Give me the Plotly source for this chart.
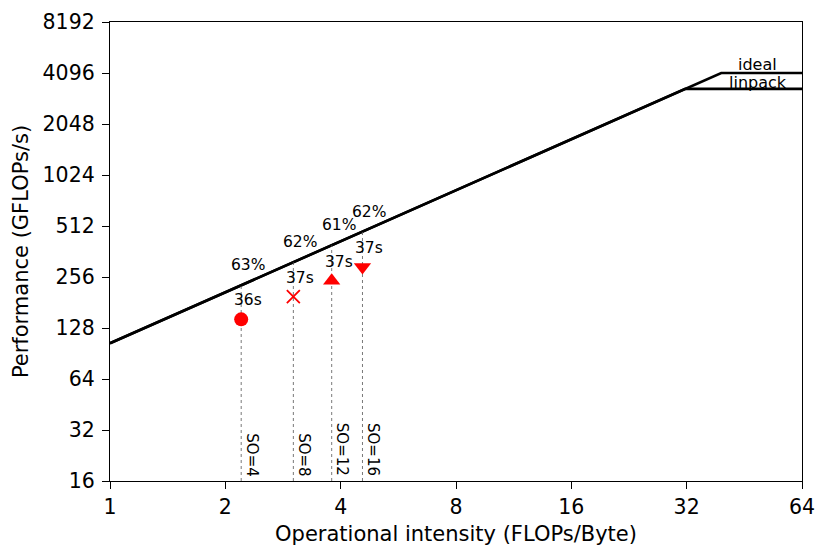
import numpy as np
import plotly.graph_objects as go

# roofline parameters
BANDWIDTH = 104.0
ROOF_NAMES = ["ideal", "linpack"]
ROOF_PEAKS = [4096.0, 3300.0]

# measured runs
SO_LABELS = ["SO=4", "SO=8", "SO=12", "SO=16"]
INTENSITY = [2.20, 3.01, 3.79, 4.56]
PERFORMANCE = [144, 196, 243, 293]
TIMES = ["36s", "37s", "37s", "37s"]
EFFICIENCY = ["63%", "62%", "61%", "62%"]
SYMBOLS = ["circle", "x-thin-open", "triangle-up", "triangle-down"]

X_TICKS = [1, 2, 4, 8, 16, 32, 64]
Y_TICKS = [16, 32, 64, 128, 256, 512, 1024, 2048, 4096, 8192]

LABEL_X = 49
FONT = "DejaVu Sans"

fig = go.Figure()

for name, peak in zip(ROOF_NAMES, ROOF_PEAKS):
    knee = peak / BANDWIDTH
    xs = [X_TICKS[0], knee, X_TICKS[-1]]
    ys = [min(BANDWIDTH * x, peak) for x in xs]
    fig.add_trace(go.Scatter(x=xs, y=ys, mode="lines",
                             line=dict(color="black", width=2.6),
                             showlegend=False, hoverinfo="skip"))

# dotted drop lines from the bottom up to the roof
dx, dy = [], []
for i in INTENSITY:
    dx += [i, i, None]
    dy += [Y_TICKS[0], BANDWIDTH * i, None]
fig.add_trace(go.Scatter(x=dx, y=dy, mode="lines",
                         line=dict(color="#555555", width=0.8, dash="dot"),
                         showlegend=False, hoverinfo="skip"))

for i, p, sym in zip(INTENSITY, PERFORMANCE, SYMBOLS):
    if sym.startswith("x"):
        marker = dict(symbol=sym, size=13, color="red", line=dict(color="red", width=1.8))
    else:
        marker = dict(symbol=sym, size=15 if sym != "circle" else 14, color="red",
                      line=dict(width=0))
    fig.add_trace(go.Scatter(x=[i], y=[p], mode="markers", marker=marker,
                             showlegend=False, hoverinfo="skip"))

annotations = []
for i, p, t, e, so in zip(INTENSITY, PERFORMANCE, TIMES, EFFICIENCY, SO_LABELS):
    annotations.append(dict(x=np.log10(i), y=np.log10(BANDWIDTH * i), text=e,
                            showarrow=False, xshift=7, yshift=20,
                            font=dict(size=15.5, color="black", family=FONT)))
    annotations.append(dict(x=np.log10(i), y=np.log10(p), text=t,
                            showarrow=False, xshift=7, yshift=19,
                            font=dict(size=15.5, color="black", family=FONT)))
    annotations.append(dict(x=np.log10(i), y=np.log10(Y_TICKS[0]), text=so,
                            showarrow=False, textangle=90, xanchor="left",
                            yanchor="bottom", xshift=0, yshift=3,
                            font=dict(size=15, color="black", family=FONT)))

for name, peak, shift in zip(ROOF_NAMES, ROOF_PEAKS, [-3, -5]):
    annotations.append(dict(x=np.log10(LABEL_X), y=np.log10(peak), text=name,
                            showarrow=False, yanchor="bottom", yshift=shift,
                            font=dict(size=16, color="black", family=FONT)))

axis_common = dict(type="log", showline=True, linecolor="black", linewidth=1.3,
                   mirror=True, ticks="outside", ticklen=7, tickwidth=1.3,
                   tickcolor="black", showgrid=False, zeroline=False,
                   automargin=False,
                   tickfont=dict(size=20.5, color="black", family=FONT))

fig.update_layout(
    width=830, height=558,
    margin=dict(l=102, r=36, t=14, b=85),
    plot_bgcolor="white", paper_bgcolor="white",
    font=dict(family=FONT, color="black"),
    annotations=annotations,
    xaxis=dict(axis_common, range=[np.log10(X_TICKS[0]), np.log10(X_TICKS[-1])],
               tickvals=X_TICKS, ticktext=[str(v) for v in X_TICKS],
               title=dict(text="Operational intensity (FLOPs/Byte)",
                          font=dict(size=21), standoff=8)),
    yaxis=dict(axis_common, range=[np.log10(Y_TICKS[0]), np.log10(Y_TICKS[-1])],
               tickvals=Y_TICKS, ticktext=[str(v) for v in Y_TICKS],
               ticklabelstandoff=3,
               title=dict(text="Performance (GFLOPs/s)",
                          font=dict(size=21), standoff=8)),
)

fig.write_html("out.html")
